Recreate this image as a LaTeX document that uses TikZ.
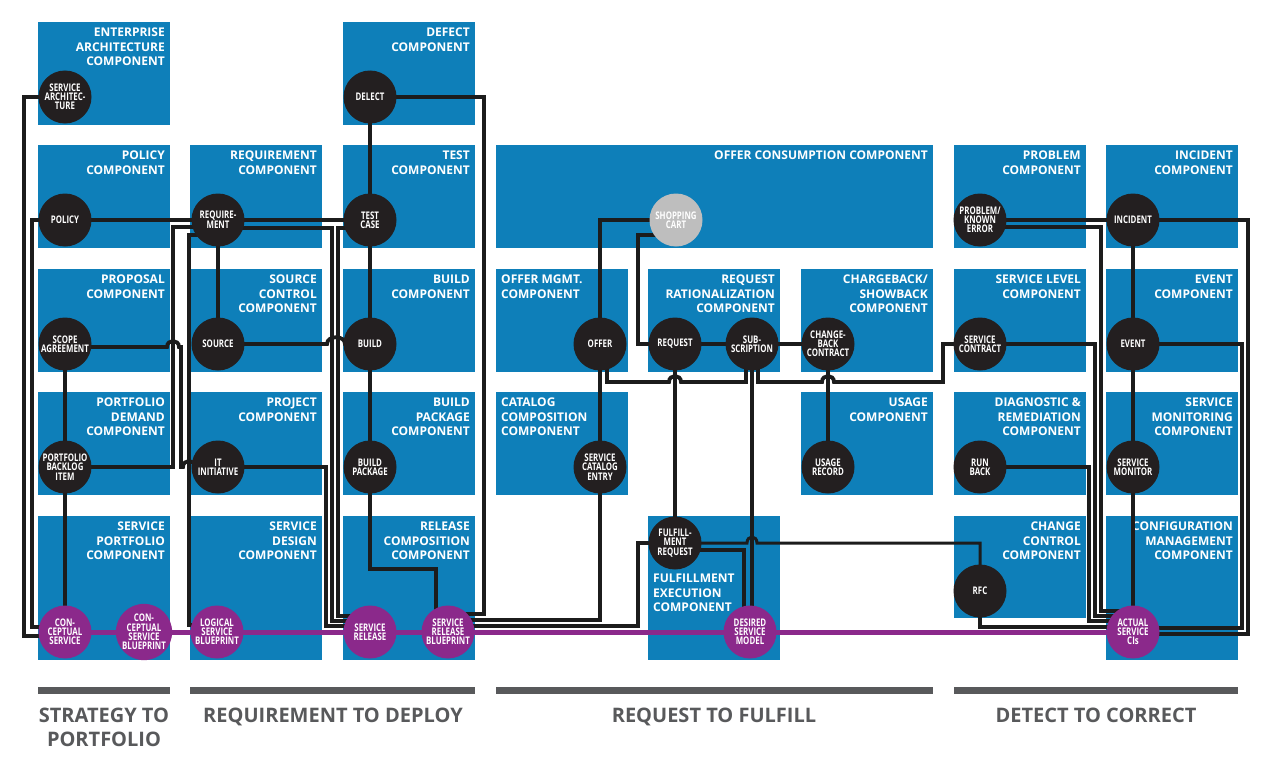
\documentclass[tikz,border=0pt]{standalone}
\usepackage{fontspec}
\setmainfont{Open Sans}
\newfontfamily\condfont[FakeStretch=0.75]{Open Sans}
\usetikzlibrary{calc}
\definecolor{cblue}{RGB}{14,127,185}
\definecolor{cblk}{RGB}{35,31,32}
\definecolor{cpur}{RGB}{139,41,139}
\definecolor{cgray}{RGB}{190,190,190}
\definecolor{cbar}{RGB}{88,89,91}
\definecolor{cwire}{RGB}{28,28,28}
\tikzset{
 box/.style={fill=cblue, draw=none, anchor=north west, inner sep=0pt, outer sep=0pt},
 ttl/.style={text=white, font=\fontsize{12}{14.5}\selectfont\bfseries, align=right, anchor=north east, inner sep=0pt},
 ttlL/.style={text=white, font=\fontsize{12}{14.5}\selectfont\bfseries, align=left, anchor=north west, inner sep=0pt},
 dot/.style={circle, minimum size=53pt, inner sep=0pt, text=white, align=center, font=\condfont\fontsize{10.5}{9.2}\selectfont\bfseries},
 blk/.style={dot, fill=cblk},
 pur/.style={dot, fill=cpur},
 gry/.style={dot, fill=cgray},
 wire/.style={draw=cwire, line width=3.8pt, line join=miter},
 pline/.style={draw=cpur, line width=5pt},
 bar/.style={fill=cbar, draw=none, inner sep=0pt, outer sep=0pt, anchor=north west},
 phase/.style={text=cbar, font=\fontsize{20}{24}\selectfont\bfseries, align=center, anchor=north, inner sep=0pt}
}
\newcommand\compbox[6]{\node[box, minimum width=#4pt, minimum height=#5pt] (#1) at (#2,#3) {};
 \node[ttl] (#1t) at ([xshift=-5pt,yshift=-6pt]#1.north east) {#6};}
\newcommand\compboxL[6]{\node[box, minimum width=#4pt, minimum height=#5pt] (#1) at (#2,#3) {};
 \node[ttlL] (#1t) at ([xshift=5pt,yshift=-6pt]#1.north west) {#6};}
\begin{document}
\begin{tikzpicture}[x=1pt,y=-1pt]
\useasboundingbox (0,0) rectangle (1277,768);
\fill[white] (0,0) rectangle (1277,768);
% ---------- boxes
\compbox{bEnt}{38}{22}{132}{103}{ENTERPRISE\\ARCHITECTURE\\COMPONENT}
\compbox{bDef}{343}{22}{132}{103}{DEFECT\\COMPONENT}
\compbox{bPol}{38}{145}{132}{103}{POLICY\\COMPONENT}
\compbox{bReq}{190}{145}{132}{103}{REQUIREMENT\\COMPONENT}
\compbox{bTest}{343}{145}{132}{103}{TEST\\COMPONENT}
\compbox{bOffC}{496}{145}{437}{103}{OFFER CONSUMPTION COMPONENT}
\compbox{bProb}{954}{145}{132}{103}{PROBLEM\\COMPONENT}
\compbox{bInc}{1106}{145}{132}{103}{INCIDENT\\COMPONENT}
\compbox{bProp}{38}{269}{132}{103}{PROPOSAL\\COMPONENT}
\compbox{bSrc}{190}{269}{132}{103}{SOURCE\\CONTROL\\COMPONENT}
\compbox{bBuild}{343}{269}{132}{103}{BUILD\\COMPONENT}
\compboxL{bOffM}{496}{269}{132}{103}{OFFER MGMT.\\COMPONENT}
\compbox{bRat}{648}{269}{132}{103}{REQUEST\\RATIONALIZATION\\COMPONENT}
\compbox{bChg}{801}{269}{132}{103}{CHARGEBACK/\\SHOWBACK\\COMPONENT}
\compbox{bSL}{954}{269}{132}{103}{SERVICE LEVEL\\COMPONENT}
\compbox{bEv}{1106}{269}{132}{103}{EVENT\\COMPONENT}
\compbox{bPD}{38}{392}{132}{103}{PORTFOLIO\\DEMAND\\COMPONENT}
\compbox{bProj}{190}{392}{132}{103}{PROJECT\\COMPONENT}
\compbox{bBP}{343}{392}{132}{103}{BUILD\\PACKAGE\\COMPONENT}
\compboxL{bCat}{496}{392}{132}{103}{CATALOG\\COMPOSITION\\COMPONENT}
\compbox{bUse}{801}{392}{132}{103}{USAGE\\COMPONENT}
\compbox{bDiag}{954}{392}{132}{103}{DIAGNOSTIC \&\\REMEDIATION\\COMPONENT}
\compbox{bMon}{1106}{392}{132}{103}{SERVICE\\MONITORING\\COMPONENT}
\compbox{bSP}{38}{516}{132}{144}{SERVICE\\PORTFOLIO\\COMPONENT}
\compbox{bSD}{190}{516}{132}{144}{SERVICE\\DESIGN\\COMPONENT}
\compbox{bRC}{343}{516}{132}{144}{RELEASE\\COMPOSITION\\COMPONENT}
\node[box, minimum width=132pt, minimum height=144pt] (bFul) at (648,516) {};
\node[ttlL] (bFult) at (653,574) {FULFILLMENT\\EXECUTION\\COMPONENT};
\compbox{bCC}{954}{516}{132}{102}{CHANGE\\CONTROL\\COMPONENT}
\compbox{bCM}{1106}{516}{132}{144}{CONFIGURATION\\MANAGEMENT\\COMPONENT}
% ---------- circle coordinates (nodes drawn later)
\path
 (65,97) coordinate (sarch)  (370,97) coordinate (delect)
 (65,220) coordinate (policy) (218,220) coordinate (req) (370,220) coordinate (test)
 (676,220) coordinate (cart) (980,220) coordinate (prob) (1133,220) coordinate (inc)
 (65,344) coordinate (scope) (218,344) coordinate (source) (370,344) coordinate (build)
 (600,344) coordinate (offer) (675,344) coordinate (rq) (752,344) coordinate (sub)
 (828,344) coordinate (cbc) (980,344) coordinate (scon) (1133,344) coordinate (event)
 (65,467) coordinate (pbi) (218,467) coordinate (itin) (370,467) coordinate (bpkg)
 (600,467) coordinate (sce) (828,467) coordinate (usage) (980,467) coordinate (rb)
 (1133,467) coordinate (smon) (675,543) coordinate (freq) (980,591) coordinate (rfc)
 (65,632) coordinate (csvc) (144,632) coordinate (csbp) (217,632) coordinate (lsb)
 (370,632) coordinate (srel) (448,632) coordinate (srbp) (750,632) coordinate (dsm)
 (1133,632) coordinate (cis);
% ---------- wires
% strategy to portfolio
\draw[wire] (sarch) -| (24,636) -- (csvc |- 0,636);
\draw[wire] (policy) -| (32,627) -- (csvc |- 0,627);
\draw[wire] (scope) -- (pbi) -- (csvc);
\draw[wire] (policy) -- (req) -- (test);
\draw[wire] (req |- 0,227) -- (173,227) -- (173,467) -- (pbi);
\draw[wire] (req |- 0,235) -- (189,235) -- (189,625) -- (lsb |- 0,625);
\draw[wire] (scope |- 0,347) -- (167,347) .. controls (167,339) and (179,339) .. (179,347) -- (181,347) -- (181,467) -- (183,467) .. controls (183,459) and (195,459) .. (195,467) -- (itin);
% requirement to deploy
\draw[wire] (req) -- (source);
\draw[wire] (source) -- (327,344) .. controls (327,335) and (345,335) .. (345,344) -- (build);
\draw[wire] (itin) -| (326,626) -- (srel |- 0,626);
\draw[wire] (req |- 0,228) -- (332,228) -- (332,621) -- (srel |- 0,621);
\draw[wire] (test |- 0,228) -- (338,228) -- (338,616) -- (srel |- 0,616);
\draw[wire] (delect) -- (test) -- (build) -- (bpkg);
\draw[wire] (delect) -| (484,614) -- (srbp |- 0,614);
\draw[wire] (bpkg) |- (436,569) -- (436,625);
% request to fulfill
\draw[wire] (srbp |- 0,620) -| (sce);
\draw[wire] (srbp |- 0,626) -- (638,626) |- (freq);
\draw[wire] (offer) -- (sce);
\draw[wire] (offer) |- (cart);
\draw[wire] (cart |- 0,235) -- (638,235) |- (rq);
\draw[wire] (rq) -- (sub) -- (cbc);
\draw[wire] (rq) -- (freq);
\draw[wire] (offer -| 607,0) -- (607,382) -- (669,382) .. controls (669,374) and (681,374) .. (681,382) -- (746,382) -- (sub -| 746,0);
\draw[wire] (sub -| 758,0) -- (758,382) -- (822,382) .. controls (822,374) and (834,374) .. (834,382) -- (943,382) |- (scon);
\draw[wire] (sub) -- (sub |- dsm);
\draw[wire] (cbc) -- (usage);
\draw[wire] (freq |- 0,550) -- (744,550) -- (744,625);
\draw[wire, line width=3pt] (freq) -- (747,543) .. controls (747,535) and (757,535) .. (757,543) -- (980,543) -- (rfc);
% detect to correct
\draw[wire] (prob) -- (inc);
\draw[wire] (prob |- 0,227) -- (1101,227) -- (1101,611) -- (cis |- 0,611);
\draw[wire] (scon) -- (1095,344) -- (1095,616) -- (cis |- 0,616);
\draw[wire] (rb) -- (1089,467) -- (1089,621) -- (cis |- 0,621);
\draw[wire] (rfc) -- (rfc |- 0,627) -- (cis |- 0,627);
\draw[wire] (inc) -| (1248,634) -- (cis |- 0,634);
\draw[wire] (event) -| (1242,628) -- (cis |- 0,628);
\draw[wire] (inc) -- (event) -- (smon) -- (cis);
% purple backbone
\draw[pline] (csvc) -- (csbp) -- (lsb) -- (srel) -- (srbp) -- (dsm) -- (cis);
% ---------- circles
\node[blk] (nsarch) at (sarch) {SERVICE\\ARCHITEC-\\TURE};
\node[blk] (ndelect) at (delect) {DELECT};
\node[blk] (npolicy) at (policy) {POLICY};
\node[blk] (nreq) at (req) {REQUIRE-\\MENT};
\node[blk] (ntest) at (test) {TEST\\CASE};
\node[gry] (ncart) at (cart) {SHOPPING\\CART};
\node[blk] (nprob) at (prob) {PROBLEM/\\KNOWN\\ERROR};
\node[blk] (ninc) at (inc) {INCIDENT};
\node[blk] (nscope) at (scope) {SCOPE\\AGREEMENT};
\node[blk] (nsource) at (source) {SOURCE};
\node[blk] (nbuild) at (build) {BUILD};
\node[blk] (noffer) at (offer) {OFFER};
\node[blk] (nrq) at (rq) {REQUEST};
\node[blk] (nsub) at (sub) {SUB-\\SCRIPTION};
\node[blk] (ncbc) at (cbc) {CHANGE-\\BACK\\CONTRACT};
\node[blk] (nscon) at (scon) {SERVICE\\CONTRACT};
\node[blk] (nevent) at (event) {EVENT};
\node[blk] (npbi) at (pbi) {PORTFOLIO\\BACKLOG\\ITEM};
\node[blk] (nitin) at (itin) {IT\\INITIATIVE};
\node[blk] (nbpkg) at (bpkg) {BUILD\\PACKAGE};
\node[blk] (nsce) at (sce) {SERVICE\\CATALOG\\ENTRY};
\node[blk] (nusage) at (usage) {USAGE\\RECORD};
\node[blk] (nrb) at (rb) {RUN\\BACK};
\node[blk] (nsmon) at (smon) {SERVICE\\MONITOR};
\node[blk] (nfreq) at (freq) {FULFILL-\\MENT\\REQUEST};
\node[blk] (nrfc) at (rfc) {RFC};
\node[pur] (ncsvc) at (csvc) {CON-\\CEPTUAL\\SERVICE};
\node[pur] (ncsbp) at (csbp) {CON-\\CEPTUAL\\SERVICE\\BLUEPRINT};
\node[pur] (nlsb) at (lsb) {LOGICAL\\SERVICE\\BLUEPRINT};
\node[pur] (nsrel) at (srel) {SERVICE\\RELEASE};
\node[pur] (nsrbp) at (srbp) {SERVICE\\RELEASE\\BLUEPRINT};
\node[pur] (ndsm) at (dsm) {DESIRED\\SERVICE\\MODEL};
\node[pur] (ncis) at (cis) {ACTUAL\\SERVICE\\CIs};
% ---------- phase bars
\node[bar, minimum width=132pt, minimum height=7pt] (bar1) at (38,687) {};
\node[bar, minimum width=285pt, minimum height=7pt] (bar2) at (190,687) {};
\node[bar, minimum width=437pt, minimum height=7pt] (bar3) at (496,687) {};
\node[bar, minimum width=284pt, minimum height=7pt] (bar4) at (954,687) {};
\node[phase] (ph1) at (104,708) {STRATEGY TO\\PORTFOLIO};
\node[phase] (ph2) at (333,708) {REQUIREMENT TO DEPLOY};
\node[phase] (ph3) at (714,708) {REQUEST TO FULFILL};
\node[phase] (ph4) at (1096,708) {DETECT TO CORRECT};
\end{tikzpicture}
\end{document}
